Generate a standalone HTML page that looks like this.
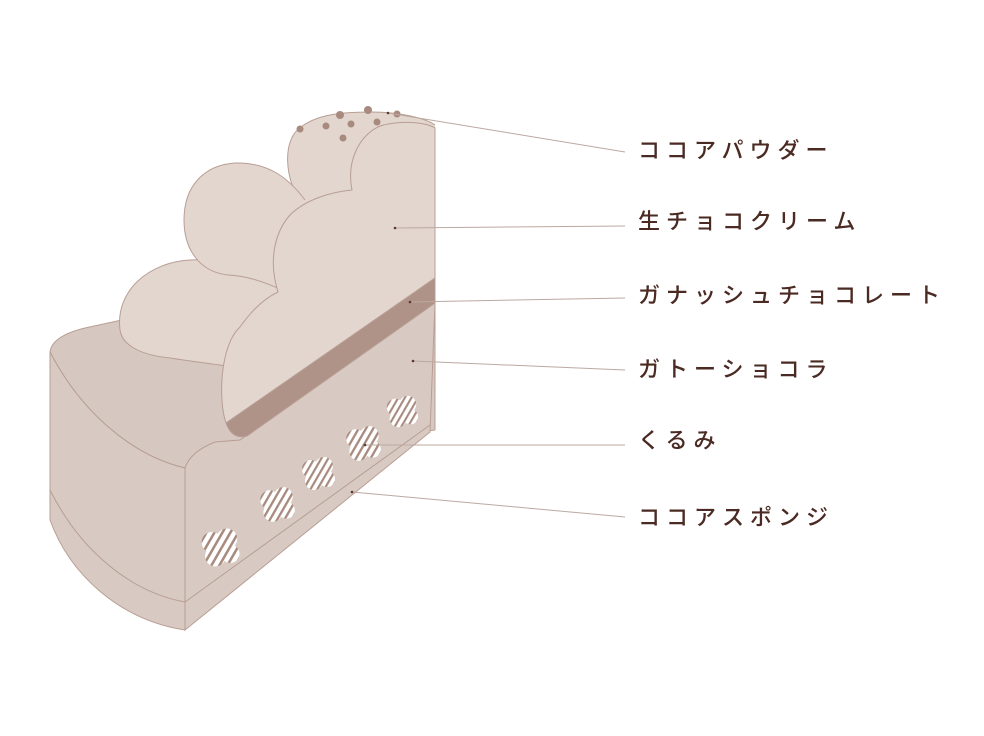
<!DOCTYPE html>
<html><head><meta charset="utf-8"><style>
html,body{margin:0;padding:0;background:#fff;}
svg{display:block;}
text{font-family:"Liberation Sans","Noto Sans CJK JP",sans-serif;font-size:22px;font-weight:500;fill:#4a2a22;letter-spacing:6px;}
</style></head><body>
<svg width="984" height="736" viewBox="0 0 984 736" xmlns="http://www.w3.org/2000/svg">
<defs>
<pattern id="st" width="6" height="6" patternUnits="userSpaceOnUse" patternTransform="rotate(30)">
<rect width="6" height="6" fill="#fff"/><rect width="2.2" height="6" fill="#a88a7e"/>
</pattern>
<g id="nut"><circle cx="-7" cy="-5" r="9"/><circle cx="6" cy="-8" r="9"/><circle cx="9" cy="5" r="8"/><circle cx="-4" cy="7" r="9"/></g>
</defs>
<g stroke="#b89e94" stroke-width="1">
<path d="M50,352 Q52,336 85,328 L140,316 L300,180 L435,128 L435,430 L185,468 C130,455 80,410 50,352 Z" fill="#d6c8c0"/>
<path d="M50,352 C80,410 130,455 185,468 L185,630 C120,620 70,575 50,520 Z" fill="#d8cac2"/>
<path d="M50,490 C80,550 130,592 185,602" fill="none"/>
<path d="M185,468 Q190,452 215,442 L240,440 L435,303 L430,432 L185,630 Z" fill="#d8cac2"/>
<path d="M185,602 L430,425" fill="none"/>
<path d="M200,300 L230,268 L290,190 L360,150 L435,130 L435,280 L226,423 L222,340 Z" fill="#e2d6cf" stroke="none"/>
<!-- top blob -->
<path d="M300,200 C285,180 282,140 300,128 C315,115 340,112 370,112 C400,112 425,118 435,125 L435,200 Z" fill="#e2d6cf" stroke="none"/>
<path d="M300,200 C285,180 282,140 300,128 C315,115 340,112 370,112 C400,112 425,118 435,125" fill="none"/>
<!-- lower-left blob -->
<path d="M120,330 C115,290 150,262 190,260 C220,258 240,270 250,285 L240,368 C215,364 195,362 170,358 C140,355 122,345 120,330 Z" fill="#e2d6cf" stroke="none"/>
<path d="M240,368 C215,364 195,362 170,358 C140,355 122,345 120,330 C115,290 150,262 190,260 C205,259 215,261 225,265" fill="none"/>
<!-- mid blob -->
<path d="M184,220 C184,185 205,165 235,163 C270,162 290,180 305,200 L282,290 C260,280 245,276 228,275 C200,272 184,250 184,220 Z" fill="#e2d6cf" stroke="none"/>
<path d="M305,200 C290,180 270,162 235,163 C205,165 184,185 184,220 C184,250 200,272 228,275 C245,276 260,280 282,290" fill="none"/>
<!-- right cut face -->
<path d="M435,128 L435,280 L226,423 C218,400 220,345 240,327 C252,310 265,298 278,292 C268,260 275,232 290,215 C305,200 330,192 352,190 C346,160 360,135 380,126 C400,120 425,122 435,128 Z" fill="#e2d6cf"/>
<path d="M226,423 L435,278 L435,303 L247,436 Q232,440 226,423 Z" fill="#b09388"/>
</g>
<g fill="url(#st)">
<use href="#nut" transform="translate(220,548) scale(1.15)"/>
<use href="#nut" transform="translate(277,505) scale(1.05)"/>
<use href="#nut" transform="translate(318,474) scale(1.0)"/>
<use href="#nut" transform="translate(363,444) scale(1.05)"/>
<use href="#nut" transform="translate(402,412) scale(0.95)"/>
</g>
<g fill="#a88a7e">
<circle cx="300" cy="129" r="3.5"/><circle cx="326" cy="126" r="3.5"/><circle cx="340" cy="115" r="4"/><circle cx="351" cy="124" r="3.5"/><circle cx="368" cy="110" r="4"/><circle cx="377" cy="122" r="3.5"/><circle cx="397" cy="114" r="3.5"/><circle cx="343" cy="138" r="3.5"/>
</g>
<g stroke="#bba9a1" stroke-width="1" fill="none">
<path d="M388,113 L625,152"/><path d="M395,228 L625,226"/><path d="M410,302 L625,298"/><path d="M413,361 L625,370"/><path d="M365,445 L625,445"/><path d="M352,492 L625,517"/>
</g>
<g fill="#5a3a30">
<circle cx="388" cy="113" r="1.3"/><circle cx="395" cy="228" r="1.3"/><circle cx="410" cy="302" r="1.3"/><circle cx="413" cy="361" r="1.3"/><circle cx="365" cy="445" r="1.3"/><circle cx="352" cy="492" r="1.3"/>
</g>
<text x="638" y="158">ココアパウダー</text>
<text x="638" y="229">生チョコクリーム</text>
<text x="638" y="303">ガナッシュチョコレート</text>
<text x="638" y="377">ガトーショコラ</text>
<text x="638" y="448">くるみ</text>
<text x="638" y="525">ココアスポンジ</text>
</svg>
</body></html>
